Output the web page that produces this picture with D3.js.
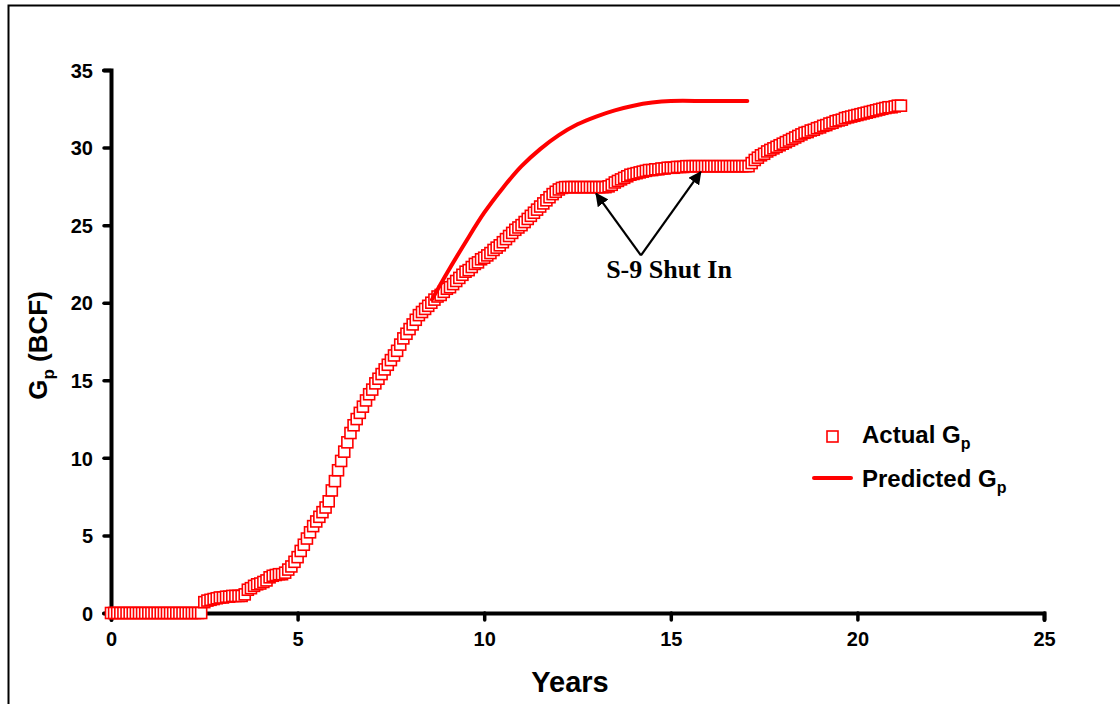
<!DOCTYPE html>
<html>
<head>
<meta charset="utf-8">
<script src="https://cdn.jsdelivr.net/npm/d3@7"></script>
<style>
  body { margin: 0; background: #fff; }
  text { font-family: Arial, "Liberation Sans", sans-serif; font-weight: bold; }
</style>
</head>
<body>
<script>
// Actual cumulative gas production, one reading per month starting at year 0 (BCF)
let actualGp = [
  0, 0, 0, 0, 0, 0, 0, 0, 0, 0, 0, 0,
  0, 0, 0, 0, 0, 0, 0, 0, 0, 0, 0, 0,
  0, 0, 0, 0, 0, 0, 0.7, 0.8, 0.85, 0.9, 0.95, 1.0,
  1.0, 1.05, 1.05, 1.1, 1.1, 1.1, 1.1, 1.2, 1.5, 1.6, 1.75, 1.85,
  1.9, 2.0, 2.1, 2.3, 2.4, 2.45, 2.5, 2.5, 2.6, 2.8, 3.0, 3.3,
  3.6, 4.0, 4.4, 4.8, 5.2, 5.6, 5.9, 6.2, 6.5, 6.8, 7.2, 7.9,
  8.5, 9.2, 9.8, 10.4, 11.0, 11.6, 12.1, 12.5, 12.9, 13.3, 13.7, 14.1,
  14.4, 14.8, 15.1, 15.4, 15.7, 16.0, 16.3, 16.6, 16.9, 17.3, 17.7, 18.0,
  18.3, 18.6, 18.9, 19.2, 19.4, 19.6, 19.8, 20.0, 20.2, 20.4, 20.5, 20.7,
  20.9, 21.0, 21.2, 21.4, 21.6, 21.8, 22.0, 22.1, 22.3, 22.5, 22.6, 22.8,
  22.9, 23.05, 23.2, 23.4, 23.55, 23.7, 23.9, 24.1, 24.3, 24.5, 24.7, 24.85,
  25.0, 25.2, 25.4, 25.6, 25.8, 26.0, 26.2, 26.4, 26.6, 26.8, 27.0, 27.15,
  27.3, 27.4, 27.45, 27.45, 27.45, 27.45, 27.45, 27.45, 27.45, 27.45, 27.45, 27.45,
  27.45, 27.45, 27.45, 27.45, 27.5, 27.6, 27.75, 27.85, 27.95, 28.05, 28.15, 28.25,
  28.3, 28.35, 28.4, 28.45, 28.5, 28.55, 28.55, 28.6, 28.6, 28.65, 28.65, 28.7,
  28.7, 28.7, 28.75, 28.75, 28.75, 28.8, 28.8, 28.8, 28.8, 28.8, 28.8, 28.8,
  28.8, 28.8, 28.8, 28.8, 28.8, 28.8, 28.8, 28.8, 28.8, 28.8, 28.8, 28.8,
  28.8, 28.8, 29.0, 29.2, 29.35, 29.5, 29.6, 29.75, 29.85, 29.95, 30.05, 30.15,
  30.25, 30.35, 30.45, 30.55, 30.65, 30.75, 30.85, 30.95, 31.0, 31.1, 31.15, 31.25,
  31.3, 31.4, 31.45, 31.55, 31.6, 31.7, 31.75, 31.8, 31.9, 31.95, 32.0, 32.05,
  32.1, 32.15, 32.2, 32.25, 32.3, 32.35, 32.4, 32.45, 32.5, 32.55, 32.6, 32.6,
  32.65, 32.7, 32.7
];

// Predicted Gp curve
let predYears = [8.6, 9.0, 9.5, 10.0, 10.5, 11.0, 11.5, 12.0, 12.5, 13.0, 13.5, 14.0, 14.5, 15.0, 16.0, 17.05];
let predGp    = [20.2, 21.9, 23.9, 25.8, 27.4, 28.8, 29.9, 30.8, 31.5, 32.0, 32.4, 32.7, 32.9, 33.0, 33.0, 33.0];

let xTicks = [0, 5, 10, 15, 20, 25];
let yTicks = [0, 5, 10, 15, 20, 25, 30, 35];

let width = 1120,
    height = 704;

let margin = { top: 70, bottom: 91, left: 111, right: 76 };

let svg = d3.select('body')
            .append('svg')
            .attr('width', width)
            .attr('height', height);

// outer frame (runs off the right and bottom of the picture)
svg.append('rect')
  .attr('x', 8.5)
  .attr('y', 5.5)
  .attr('width', 1140)
  .attr('height', 740)
  .attr('fill', 'none')
  .attr('stroke', '#000')
  .attr('stroke-width', 2);

let xscale = d3.scaleLinear()
              .domain([0, 25])
              .range([margin.left, width - margin.right]);

let yscale = d3.scaleLinear()
              .domain([0, 35])
              .range([height - margin.bottom, margin.top]);

let xaxis = svg.append('g')
              .attr('transform', `translate(0,${height - margin.bottom})`)
              .call(d3.axisBottom(xscale).tickValues(xTicks).tickSizeOuter(0).tickSize(7).tickPadding(12));

let yaxis = svg.append('g')
              .attr('transform', `translate(${margin.left},0)`)
              .call(d3.axisLeft(yscale).tickValues(yTicks).tickSizeOuter(0).tickSize(7).tickPadding(11));

[xaxis, yaxis].forEach(ax => {
  ax.select('.domain').attr('stroke', '#000').attr('stroke-width', 4).attr('stroke-linecap', 'round');
  ax.selectAll('.tick line').attr('stroke', '#000').attr('stroke-width', 3.5).attr('stroke-linecap', 'round');
  ax.selectAll('.tick text').attr('fill', '#000').style('font-size', '20px').style('font-weight', 'bold')
    .style('font-family', 'Arial, "Liberation Sans", sans-serif');
});
yaxis.selectAll('.tick text').attr('dy', '0.36em');

// axis titles
svg.append('text')
  .text('Years')
  .attr('x', xscale(12.3))
  .attr('y', 692)
  .attr('text-anchor', 'middle')
  .style('font-size', '29px');

let ylab = svg.append('text')
  .attr('transform', `translate(47,${yscale(17.5) + 4}) rotate(-90)`)
  .attr('text-anchor', 'middle')
  .style('font-size', '26px');
ylab.append('tspan').text('G');
ylab.append('tspan').text('p').attr('dy', 7).style('font-size', '17px');
ylab.append('tspan').text(' (BCF)').attr('dy', -7);

// actual points
let actual = actualGp.map((v, i) => ({ year: i / 12, gp: v }));
let msize = 11;
svg.append('g')
  .selectAll('rect')
  .data(actual)
  .join('rect')
  .attr('x', d => xscale(d.year) - msize / 2)
  .attr('y', d => yscale(d.gp) - msize / 2)
  .attr('width', msize)
  .attr('height', msize)
  .attr('fill', '#fff')
  .attr('stroke', '#ff0000')
  .attr('stroke-width', 1.6);

// predicted line
let pred = predYears.map((y, i) => ({ year: y, gp: predGp[i] }));
let line = d3.line()
            .x(d => xscale(d.year))
            .y(d => yscale(d.gp))
            .curve(d3.curveCatmullRom.alpha(0.5));

svg.append('path')
  .datum(pred)
  .attr('d', line)
  .attr('fill', 'none')
  .attr('stroke', '#ff0000')
  .attr('stroke-width', 4)
  .attr('stroke-linecap', 'round');

// annotation
svg.append('defs').append('marker')
  .attr('id', 'arrow')
  .attr('viewBox', '0 0 10 10')
  .attr('refX', 9)
  .attr('refY', 5)
  .attr('markerWidth', 6)
  .attr('markerHeight', 6)
  .attr('orient', 'auto')
  .append('path')
  .attr('d', 'M0,0 L10,5 L0,10 z')
  .attr('fill', '#000');

let apex = [xscale(14.2), yscale(23.05)];
[[13.0, 27.35], [15.8, 28.75]].forEach(t => {
  svg.append('line')
    .attr('x1', apex[0]).attr('y1', apex[1])
    .attr('x2', xscale(t[0])).attr('y2', yscale(t[1]) + 5)
    .attr('stroke', '#000')
    .attr('stroke-width', 2.2)
    .attr('marker-end', 'url(#arrow)');
});

svg.append('text')
  .text('S-9 Shut In')
  .attr('x', 669)
  .attr('y', 278)
  .attr('text-anchor', 'middle')
  .style('font-family', '"Liberation Serif", "Times New Roman", serif')
  .style('font-size', '26px');

// legend
let lg = svg.append('g');
lg.append('rect')
  .attr('x', 827)
  .attr('y', 431)
  .attr('width', msize)
  .attr('height', msize)
  .attr('fill', '#fff')
  .attr('stroke', '#ff0000')
  .attr('stroke-width', 1.6);
lg.append('line')
  .attr('x1', 814).attr('x2', 851)
  .attr('y1', 478).attr('y2', 478)
  .attr('stroke', '#ff0000')
  .attr('stroke-width', 4)
  .attr('stroke-linecap', 'round');

[['Actual G', 443], ['Predicted G', 487]].forEach(l => {
  let t = lg.append('text')
    .attr('x', 862)
    .attr('y', l[1])
    .style('font-size', '24px');
  t.append('tspan').text(l[0]);
  t.append('tspan').text('p').attr('dy', 6).style('font-size', '16px');
});
</script>
</body>
</html>
